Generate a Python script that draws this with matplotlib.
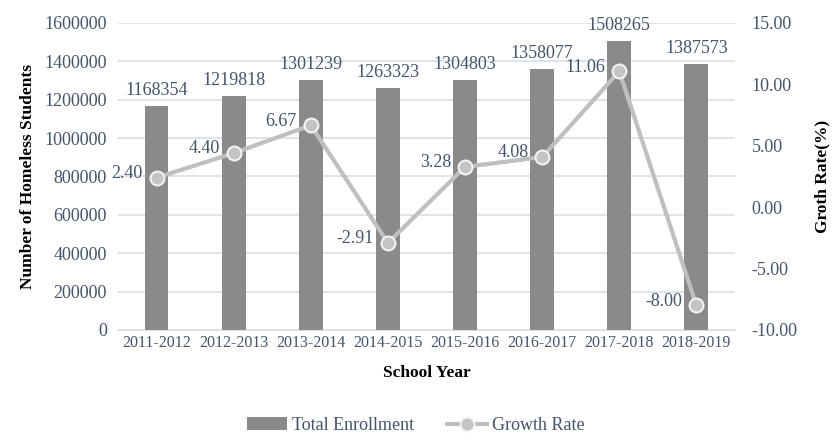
import numpy as np
import matplotlib
matplotlib.use("Agg")
from matplotlib import pyplot as plt
from matplotlib.ticker import FuncFormatter

years = ["2011-2012", "2012-2013", "2013-2014", "2014-2015",
         "2015-2016", "2016-2017", "2017-2018", "2018-2019"]
enrollment = [1168354, 1219818, 1301239, 1263323, 1304803, 1358077, 1508265, 1387573]
growth = [2.40, 4.40, 6.67, -2.91, 3.28, 4.08, 11.06, -8.00]

plt.rcParams['font.family'] = ['Liberation Serif', 'DejaVu Serif']
txt = '#44546a'

fig = plt.figure(figsize=(8.32, 4.48), dpi=100)
ax = fig.add_axes([0.1418, 0.2634, 0.7416, 0.6853])
ax2 = ax.twinx()

x = np.arange(len(years))
ax.bar(x, enrollment, width=0.31, color='#8a8a8a', label='Total Enrollment', zorder=2)
for xi, v in zip(x, enrollment):
    ax.annotate(str(v), (xi, v), xytext=(0, 5), textcoords='offset points',
                ha='center', va='bottom', fontsize=13, color=txt)

ax.set_ylim(0, 1600000)
ax.set_xlim(-0.5, len(years) - 0.5)
ax.set_yticks(np.arange(0, 1600001, 200000))
ax.yaxis.set_major_formatter(FuncFormatter(lambda v, p: '%d' % v))
ax.grid(axis='y', color='#d9dfe8', linewidth=1.2, zorder=0)
ax.set_axisbelow(True)
ax.tick_params(axis='both', length=0, labelsize=11.5, labelcolor=txt)
ax.tick_params(axis='y', labelsize=13, pad=8)
ax.set_xticks(x)
ax.set_xticklabels(years)
ax.set_xlabel('School Year', fontsize=12.5, fontweight='bold', labelpad=10)
ax.set_ylabel('Number of Homeless Students', fontsize=12.5, fontweight='bold', labelpad=6)
for s in ax.spines.values():
    s.set_visible(False)
ax.spines['bottom'].set_visible(True)
ax.spines['bottom'].set_color('#d9dfe8')

ax2.plot(x, growth, color='#bfbfbf', linewidth=3, marker='o', markersize=10,
         markerfacecolor='#c4c4c4', markeredgecolor='#f2f2f2', markeredgewidth=1.5,
         label='Growth Rate', zorder=3)
for xi, g in zip(x, growth):
    ax2.annotate('%.2f' % g, (xi, g), xytext=(-10, 3), textcoords='offset points',
                 ha='right', va='center', fontsize=13, color=txt)
ax2.set_ylim(-10, 15)
ax2.set_yticks([-10, -5, 0, 5, 10, 15])
ax2.set_yticklabels(['%.2f' % t for t in [-10, -5, 0, 5, 10, 15]])
ax2.tick_params(axis='y', length=0, labelsize=13, labelcolor=txt, pad=12)
ax2.set_ylabel('Groth Rate(%)', fontsize=12.5, fontweight='bold', labelpad=12)
for s in ax2.spines.values():
    s.set_visible(False)

h1, l1 = ax.get_legend_handles_labels()
h2, l2 = ax2.get_legend_handles_labels()
fig.legend(h1 + h2, l1 + l2, loc='lower center', bbox_to_anchor=(0.5, -0.005), ncol=2,
           frameon=False, fontsize=13, labelcolor=txt, handlelength=2.2,
           handletextpad=0.3, columnspacing=1.8)

fig.savefig('out.png', dpi=100)
